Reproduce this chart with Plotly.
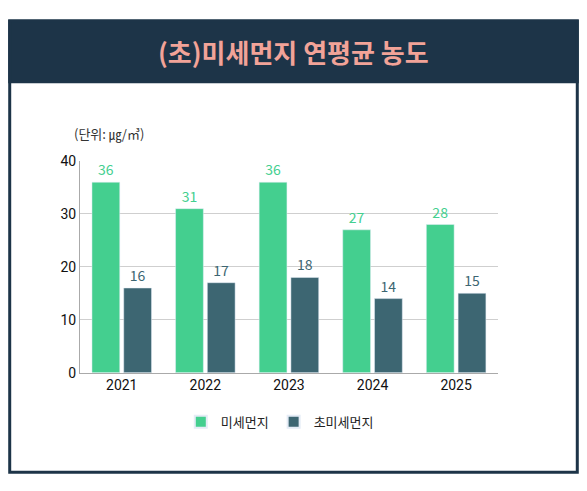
import plotly.graph_objects as go

years = ["2021", "2022", "2023", "2024", "2025"]
pm10 = [36, 31, 36, 27, 28]
pm25 = [16, 17, 18, 14, 15]

green = "#44cf8f"
teal = "#3d6672"
navy = "#1d3448"
font = "Noto Sans CJK KR"

fig = go.Figure()
fig.add_trace(go.Bar(x=years, y=pm10, name="미세먼지", marker_color=green,
                     text=pm10, textposition="outside", cliponaxis=False,
                     textfont=dict(color=green, size=14)))
fig.add_trace(go.Bar(x=years, y=pm25, name="초미세먼지", marker_color=teal,
                     text=pm25, textposition="outside", cliponaxis=False,
                     textfont=dict(color=teal, size=14)))

# page body has an 8px margin, so the figure is a bit smaller than the window
fig.update_layout(
    width=571, height=475,
    margin=dict(l=0, r=0, t=0, b=0),
    paper_bgcolor="white", plot_bgcolor="white",
    font=dict(family=font, color="#222"),
    barmode="group", bargap=0.24, bargroupgap=0.125,
    showlegend=True,
    legend=dict(orientation="h", x=0.476, xanchor="center", y=0.116, yanchor="middle",
                font=dict(size=13, color="#222"), itemsizing="constant"),
    xaxis=dict(domain=[0.126, 0.858], showline=True, linecolor="#aaa",
               tickfont=dict(size=14, color="#111", family="Roboto"), ticks=""),
    yaxis=dict(domain=[0.223, 0.684], range=[0, 40], dtick=10, showgrid=True,
               gridcolor="#cfcfcf", showline=True, linecolor="#aaa", zeroline=False,
               tickfont=dict(size=14, color="#111", family="Roboto"), ticks=""),
    shapes=[
        dict(type="rect", xref="paper", yref="paper", x0=0.003, x1=0.997, y0=0.006, y1=0.989,
             line=dict(color=navy, width=3), fillcolor="rgba(0,0,0,0)"),
        dict(type="rect", xref="paper", yref="paper", x0=0.003, x1=0.997, y0=0.857, y1=0.989,
             line=dict(color=navy, width=3), fillcolor=navy),
    ],
    annotations=[
        dict(text="<b>(초)미세먼지 연평균 농도</b>", xref="paper", yref="paper", x=0.5, y=0.922,
             yanchor="middle", showarrow=False, font=dict(size=26, color="#f2a398", family=font)),
        dict(text="(단위: ㎍/㎥)", xref="paper", yref="paper", x=0.112, y=0.743,
             xanchor="left", yanchor="middle", showarrow=False,
             font=dict(size=13, color="#333", family=font)),
    ],
)

fig.write_html("out.html")
